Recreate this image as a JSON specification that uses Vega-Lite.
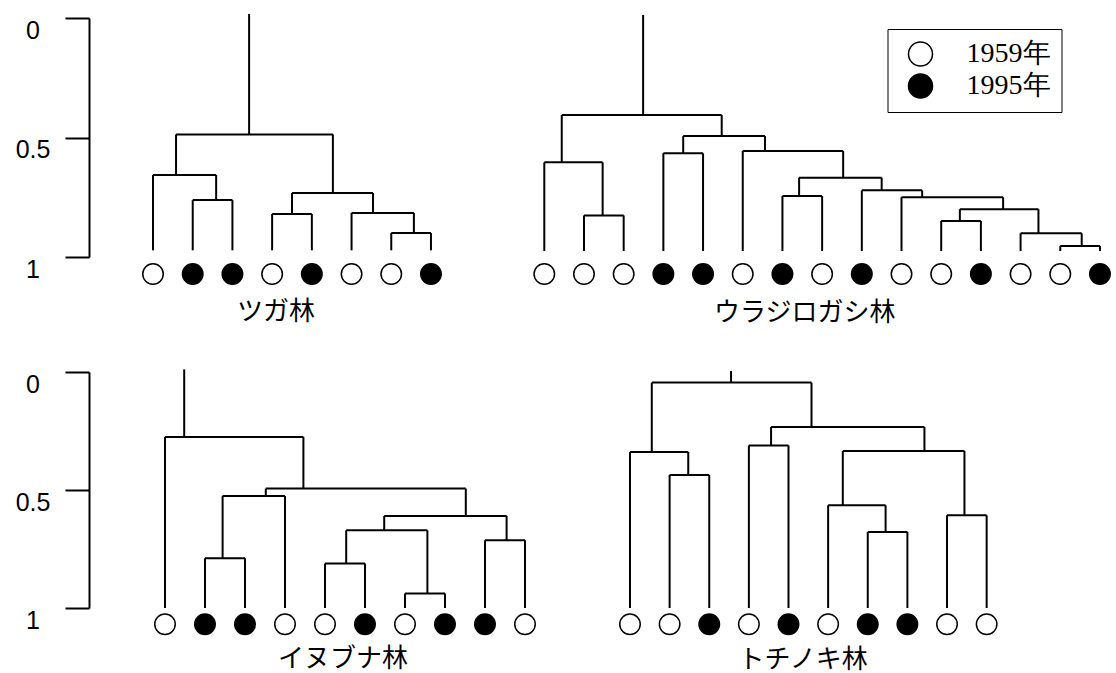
{
  "background": "white",
  "padding": {"left": 15, "top": 12, "right": 0, "bottom": 0},
  "bounds": "flush",
  "spacing": 354,
  "datasets": {
    "mA": [
      {"xl": 2, "xr": 3, "h": 0.762, "hl": 0.972, "hr": 0.972},
      {"xl": 1, "xr": 2.59, "h": 0.657, "hl": 0.972, "hr": 0.762},
      {"xl": 7, "xr": 8, "h": 0.9, "hl": 0.972, "hr": 0.972},
      {"xl": 6, "xr": 7.57, "h": 0.816, "hl": 0.972, "hr": 0.9},
      {"xl": 4, "xr": 5, "h": 0.82, "hl": 0.972, "hr": 0.972},
      {"xl": 4.5, "xr": 6.54, "h": 0.732, "hl": 0.82, "hr": 0.816},
      {"xl": 1.58, "xr": 5.53, "h": 0.487, "hl": 0.657, "hr": 0.732}
    ],
    "mB": [
      {"xl": 2, "xr": 3, "h": 0.826, "hl": 0.975, "hr": 0.975},
      {"xl": 1, "xr": 2.47, "h": 0.604, "hl": 0.975, "hr": 0.826},
      {"xl": 4, "xr": 5, "h": 0.566, "hl": 0.975, "hr": 0.975},
      {"xl": 4.5, "xr": 6.56, "h": 0.494, "hl": 0.566, "hr": 0.556},
      {"xl": 6, "xr": 8.53, "h": 0.556, "hl": 0.975, "hr": 0.668},
      {"xl": 7.42, "xr": 9.5, "h": 0.668, "hl": 0.745, "hr": 0.721},
      {"xl": 7, "xr": 8, "h": 0.745, "hl": 0.975, "hr": 0.975},
      {"xl": 9, "xr": 10.52, "h": 0.721, "hl": 0.975, "hr": 0.75},
      {"xl": 10, "xr": 12.56, "h": 0.75, "hl": 0.975, "hr": 0.8},
      {"xl": 11.47, "xr": 13.45, "h": 0.8, "hl": 0.849, "hr": 0.901},
      {"xl": 11, "xr": 12, "h": 0.849, "hl": 0.975, "hr": 0.975},
      {"xl": 13, "xr": 14.54, "h": 0.901, "hl": 0.975, "hr": 0.954},
      {"xl": 14, "xr": 15, "h": 0.954, "hl": 0.975, "hr": 0.975},
      {"xl": 1.44, "xr": 5.47, "h": 0.406, "hl": 0.604, "hr": 0.494}
    ],
    "mC": [
      {"xl": 1, "xr": 4.46, "h": 0.275, "hl": 1.0, "hr": 0.494},
      {"xl": 3.52, "xr": 8.52, "h": 0.494, "hl": 0.525, "hr": 0.61},
      {"xl": 2.44, "xr": 4, "h": 0.525, "hl": 0.789, "hr": 1.0},
      {"xl": 2, "xr": 3, "h": 0.789, "hl": 1.0, "hr": 1.0},
      {"xl": 6.48, "xr": 9.54, "h": 0.61, "hl": 0.671, "hr": 0.713},
      {"xl": 5.53, "xr": 7.56, "h": 0.671, "hl": 0.811, "hr": 0.939},
      {"xl": 5, "xr": 6, "h": 0.811, "hl": 1.0, "hr": 1.0},
      {"xl": 7, "xr": 8, "h": 0.939, "hl": 1.0, "hr": 1.0},
      {"xl": 9, "xr": 10, "h": 0.713, "hl": 1.0, "hr": 1.0}
    ],
    "mD": [
      {"xl": 1.55, "xr": 5.58, "h": 0.045, "hl": 0.339, "hr": 0.233},
      {"xl": 1, "xr": 2.47, "h": 0.339, "hl": 1.0, "hr": 0.436},
      {"xl": 2, "xr": 3, "h": 0.436, "hl": 1.0, "hr": 1.0},
      {"xl": 4.56, "xr": 8.43, "h": 0.233, "hl": 0.311, "hr": 0.335},
      {"xl": 4, "xr": 5, "h": 0.311, "hl": 1.0, "hr": 1.0},
      {"xl": 6.37, "xr": 9.44, "h": 0.335, "hl": 0.565, "hr": 0.607},
      {"xl": 6, "xr": 7.45, "h": 0.565, "hl": 1.0, "hr": 0.678},
      {"xl": 7, "xr": 8, "h": 0.678, "hl": 1.0, "hr": 1.0},
      {"xl": 9, "xr": 10, "h": 0.607, "hl": 1.0, "hr": 1.0}
    ],
    "sA": [{"x": 3.42, "top": -0.017, "h": 0.487}],
    "sB": [{"x": 3.49, "top": -0.013, "h": 0.406}],
    "sC": [{"x": 1.48, "top": -0.011, "h": 0.275}],
    "sD": [{"x": 3.55, "top": -0.004, "h": 0.045}],
    "lA": [
      {"i": 1, "year": "1959年"}, {"i": 2, "year": "1995年"}, {"i": 3, "year": "1995年"}, {"i": 4, "year": "1959年"},
      {"i": 5, "year": "1995年"}, {"i": 6, "year": "1959年"}, {"i": 7, "year": "1959年"}, {"i": 8, "year": "1995年"}
    ],
    "lB": [
      {"i": 1, "year": "1959年"}, {"i": 2, "year": "1959年"}, {"i": 3, "year": "1959年"}, {"i": 4, "year": "1995年"},
      {"i": 5, "year": "1995年"}, {"i": 6, "year": "1959年"}, {"i": 7, "year": "1995年"}, {"i": 8, "year": "1959年"},
      {"i": 9, "year": "1995年"}, {"i": 10, "year": "1959年"}, {"i": 11, "year": "1959年"}, {"i": 12, "year": "1995年"},
      {"i": 13, "year": "1959年"}, {"i": 14, "year": "1959年"}, {"i": 15, "year": "1995年"}
    ],
    "lC": [
      {"i": 1, "year": "1959年"}, {"i": 2, "year": "1995年"}, {"i": 3, "year": "1995年"}, {"i": 4, "year": "1959年"},
      {"i": 5, "year": "1959年"}, {"i": 6, "year": "1995年"}, {"i": 7, "year": "1959年"}, {"i": 8, "year": "1995年"},
      {"i": 9, "year": "1995年"}, {"i": 10, "year": "1959年"}
    ],
    "lD": [
      {"i": 1, "year": "1959年"}, {"i": 2, "year": "1959年"}, {"i": 3, "year": "1995年"}, {"i": 4, "year": "1959年"},
      {"i": 5, "year": "1995年"}, {"i": 6, "year": "1959年"}, {"i": 7, "year": "1995年"}, {"i": 8, "year": "1995年"},
      {"i": 9, "year": "1959年"}, {"i": 10, "year": "1959年"}
    ]
  },
  "vconcat": [
    {
      "bounds": "flush",
      "spacing": 0,
      "hconcat": [
        {
          "width": 446, "height": 239,
          "layer": [
            {"data": {"name": "mA"}, "mark": {"type": "rule", "color": "black", "strokeWidth": 2},
             "encoding": {
               "x": {"field": "xl", "type": "quantitative", "scale": {"domain": [-0.612, 10.62], "nice": false, "zero": false}, "axis": null},
               "x2": {"field": "xr"},
               "y": {"field": "h", "type": "quantitative", "title": null, "scale": {"domain": [0, 1], "reverse": true, "nice": false, "zero": false},
                     "axis": {"values": [0, 0.5, 1], "format": "~g", "title": null, "grid": false, "domainColor": "black", "domainWidth": 2, "tickColor": "black", "tickWidth": 2, "tickSize": 24, "labelFont": "Liberation Sans", "labelFontSize": 25, "labelColor": "black", "labelAlign": "center", "labelBaseline": "top", "labelPadding": 32.5, "labelFlush": false, "labelOverlap": false}}
             }},
            {"data": {"name": "mA"}, "mark": {"type": "rule", "color": "black", "strokeWidth": 2},
             "encoding": {
               "x": {"field": "xl", "type": "quantitative", "axis": null},
               "y": {"field": "h", "type": "quantitative", "title": null,
                     "axis": {"values": [0, 0.5, 1], "format": "~g", "title": null, "grid": false, "domainColor": "black", "domainWidth": 2, "tickColor": "black", "tickWidth": 2, "tickSize": 24, "labelFont": "Liberation Sans", "labelFontSize": 25, "labelColor": "black", "labelAlign": "center", "labelBaseline": "top", "labelPadding": 32.5, "labelFlush": false, "labelOverlap": false}},
               "y2": {"field": "hl"}
             }},
            {"data": {"name": "mA"}, "mark": {"type": "rule", "color": "black", "strokeWidth": 2},
             "encoding": {
               "x": {"field": "xr", "type": "quantitative", "axis": null},
               "y": {"field": "h", "type": "quantitative", "title": null,
                     "axis": {"values": [0, 0.5, 1], "format": "~g", "title": null, "grid": false, "domainColor": "black", "domainWidth": 2, "tickColor": "black", "tickWidth": 2, "tickSize": 24, "labelFont": "Liberation Sans", "labelFontSize": 25, "labelColor": "black", "labelAlign": "center", "labelBaseline": "top", "labelPadding": 32.5, "labelFlush": false, "labelOverlap": false}},
               "y2": {"field": "hr"}
             }},
            {"data": {"name": "sA"}, "mark": {"type": "rule", "color": "black", "strokeWidth": 2},
             "encoding": {
               "x": {"field": "x", "type": "quantitative", "axis": null},
               "y": {"field": "top", "type": "quantitative", "title": null,
                     "axis": {"values": [0, 0.5, 1], "format": "~g", "title": null, "grid": false, "domainColor": "black", "domainWidth": 2, "tickColor": "black", "tickWidth": 2, "tickSize": 24, "labelFont": "Liberation Sans", "labelFontSize": 25, "labelColor": "black", "labelAlign": "center", "labelBaseline": "top", "labelPadding": 32.5, "labelFlush": false, "labelOverlap": false}},
               "y2": {"field": "h"}
             }},
            {"data": {"name": "lA"},
             "mark": {"type": "point", "shape": "circle", "filled": true, "size": 420, "stroke": "black", "strokeWidth": 1.5, "opacity": 1},
             "encoding": {
               "x": {"field": "i", "type": "quantitative", "axis": null},
               "y": {"datum": 1.071, "type": "quantitative"},
               "fill": {"field": "year", "type": "nominal", "scale": {"domain": ["1959年", "1995年"], "range": ["white", "black"]}, "legend": {"orient": "none", "legendX": 798.5, "legendY": 11, "title": null}}
             }},
            {"data": {"values": [{"label": "ツガ林"}]},
             "mark": {"type": "text", "font": "Noto Sans CJK JP", "fontSize": 26, "color": "black", "align": "center", "baseline": "middle"},
             "encoding": {
               "x": {"datum": 4.1, "type": "quantitative"},
               "y": {"datum": 1.23, "type": "quantitative"},
               "text": {"field": "label", "type": "nominal"}
             }}
          ]
        },
        {
          "width": 581, "height": 239,
          "layer": [
            {"data": {"name": "mB"}, "mark": {"type": "rule", "color": "black", "strokeWidth": 2},
             "encoding": {
               "x": {"field": "xl", "type": "quantitative", "scale": {"domain": [0.766, 15.404], "nice": false, "zero": false}, "axis": null},
               "x2": {"field": "xr"},
               "y": {"field": "h", "type": "quantitative", "scale": {"domain": [0, 1], "reverse": true, "nice": false, "zero": false}, "axis": null}
             }},
            {"data": {"name": "mB"}, "mark": {"type": "rule", "color": "black", "strokeWidth": 2},
             "encoding": {
               "x": {"field": "xl", "type": "quantitative", "axis": null},
               "y": {"field": "h", "type": "quantitative", "axis": null},
               "y2": {"field": "hl"}
             }},
            {"data": {"name": "mB"}, "mark": {"type": "rule", "color": "black", "strokeWidth": 2},
             "encoding": {
               "x": {"field": "xr", "type": "quantitative", "axis": null},
               "y": {"field": "h", "type": "quantitative", "axis": null},
               "y2": {"field": "hr"}
             }},
            {"data": {"name": "sB"}, "mark": {"type": "rule", "color": "black", "strokeWidth": 2},
             "encoding": {
               "x": {"field": "x", "type": "quantitative", "axis": null},
               "y": {"field": "top", "type": "quantitative", "axis": null},
               "y2": {"field": "h"}
             }},
            {"data": {"name": "lB"},
             "mark": {"type": "point", "shape": "circle", "filled": true, "size": 420, "stroke": "black", "strokeWidth": 1.5, "opacity": 1},
             "encoding": {
               "x": {"field": "i", "type": "quantitative", "axis": null},
               "y": {"datum": 1.071, "type": "quantitative", "axis": null},
               "fill": {"field": "year", "type": "nominal", "scale": {"domain": ["1959年", "1995年"], "range": ["white", "black"]}, "legend": {"orient": "none", "legendX": 798.5, "legendY": 11, "title": null}}
             }},
            {"data": {"values": [{"label": "ウラジロガシ林"}]},
             "mark": {"type": "text", "font": "Noto Sans CJK JP", "fontSize": 26, "color": "black", "align": "center", "baseline": "middle"},
             "encoding": {
               "x": {"datum": 7.56, "type": "quantitative", "axis": null},
               "y": {"datum": 1.233, "type": "quantitative", "axis": null},
               "text": {"field": "label", "type": "nominal"}
             }}
          ]
        }
      ]
    },
    {
      "bounds": "flush",
      "spacing": 0,
      "hconcat": [
        {
          "width": 446, "height": 236,
          "layer": [
            {"data": {"name": "mC"}, "mark": {"type": "rule", "color": "black", "strokeWidth": 2},
             "encoding": {
               "x": {"field": "xl", "type": "quantitative", "scale": {"domain": [-0.9, 10.25], "nice": false, "zero": false}, "axis": null},
               "x2": {"field": "xr"},
               "y": {"field": "h", "type": "quantitative", "title": null, "scale": {"domain": [0, 1], "reverse": true, "nice": false, "zero": false},
                     "axis": {"values": [0, 0.5, 1], "format": "~g", "title": null, "grid": false, "domainColor": "black", "domainWidth": 2, "tickColor": "black", "tickWidth": 2, "tickSize": 24, "labelFont": "Liberation Sans", "labelFontSize": 25, "labelColor": "black", "labelAlign": "center", "labelBaseline": "top", "labelPadding": 32.5, "labelFlush": false, "labelOverlap": false}}
             }},
            {"data": {"name": "mC"}, "mark": {"type": "rule", "color": "black", "strokeWidth": 2},
             "encoding": {
               "x": {"field": "xl", "type": "quantitative", "axis": null},
               "y": {"field": "h", "type": "quantitative", "title": null,
                     "axis": {"values": [0, 0.5, 1], "format": "~g", "title": null, "grid": false, "domainColor": "black", "domainWidth": 2, "tickColor": "black", "tickWidth": 2, "tickSize": 24, "labelFont": "Liberation Sans", "labelFontSize": 25, "labelColor": "black", "labelAlign": "center", "labelBaseline": "top", "labelPadding": 32.5, "labelFlush": false, "labelOverlap": false}},
               "y2": {"field": "hl"}
             }},
            {"data": {"name": "mC"}, "mark": {"type": "rule", "color": "black", "strokeWidth": 2},
             "encoding": {
               "x": {"field": "xr", "type": "quantitative", "axis": null},
               "y": {"field": "h", "type": "quantitative", "title": null,
                     "axis": {"values": [0, 0.5, 1], "format": "~g", "title": null, "grid": false, "domainColor": "black", "domainWidth": 2, "tickColor": "black", "tickWidth": 2, "tickSize": 24, "labelFont": "Liberation Sans", "labelFontSize": 25, "labelColor": "black", "labelAlign": "center", "labelBaseline": "top", "labelPadding": 32.5, "labelFlush": false, "labelOverlap": false}},
               "y2": {"field": "hr"}
             }},
            {"data": {"name": "sC"}, "mark": {"type": "rule", "color": "black", "strokeWidth": 2},
             "encoding": {
               "x": {"field": "x", "type": "quantitative", "axis": null},
               "y": {"field": "top", "type": "quantitative", "title": null,
                     "axis": {"values": [0, 0.5, 1], "format": "~g", "title": null, "grid": false, "domainColor": "black", "domainWidth": 2, "tickColor": "black", "tickWidth": 2, "tickSize": 24, "labelFont": "Liberation Sans", "labelFontSize": 25, "labelColor": "black", "labelAlign": "center", "labelBaseline": "top", "labelPadding": 32.5, "labelFlush": false, "labelOverlap": false}},
               "y2": {"field": "h"}
             }},
            {"data": {"name": "lC"},
             "mark": {"type": "point", "shape": "circle", "filled": true, "size": 420, "stroke": "black", "strokeWidth": 1.5, "opacity": 1},
             "encoding": {
               "x": {"field": "i", "type": "quantitative", "axis": null},
               "y": {"datum": 1.069, "type": "quantitative"},
               "fill": {"field": "year", "type": "nominal", "scale": {"domain": ["1959年", "1995年"], "range": ["white", "black"]}, "legend": {"orient": "none", "legendX": 798.5, "legendY": 11, "title": null}}
             }},
            {"data": {"values": [{"label": "イヌブナ林"}]},
             "mark": {"type": "text", "font": "Noto Sans CJK JP", "fontSize": 26, "color": "black", "align": "center", "baseline": "middle"},
             "encoding": {
               "x": {"datum": 5.45, "type": "quantitative"},
               "y": {"datum": 1.216, "type": "quantitative"},
               "text": {"field": "label", "type": "nominal"}
             }}
          ]
        },
        {
          "width": 581, "height": 236,
          "layer": [
            {"data": {"name": "mD"}, "mark": {"type": "rule", "color": "black", "strokeWidth": 2},
             "encoding": {
               "x": {"field": "xl", "type": "quantitative", "scale": {"domain": [-1.397, 13.264], "nice": false, "zero": false}, "axis": null},
               "x2": {"field": "xr"},
               "y": {"field": "h", "type": "quantitative", "scale": {"domain": [0, 1], "reverse": true, "nice": false, "zero": false}, "axis": null}
             }},
            {"data": {"name": "mD"}, "mark": {"type": "rule", "color": "black", "strokeWidth": 2},
             "encoding": {
               "x": {"field": "xl", "type": "quantitative", "axis": null},
               "y": {"field": "h", "type": "quantitative", "axis": null},
               "y2": {"field": "hl"}
             }},
            {"data": {"name": "mD"}, "mark": {"type": "rule", "color": "black", "strokeWidth": 2},
             "encoding": {
               "x": {"field": "xr", "type": "quantitative", "axis": null},
               "y": {"field": "h", "type": "quantitative", "axis": null},
               "y2": {"field": "hr"}
             }},
            {"data": {"name": "sD"}, "mark": {"type": "rule", "color": "black", "strokeWidth": 2},
             "encoding": {
               "x": {"field": "x", "type": "quantitative", "axis": null},
               "y": {"field": "top", "type": "quantitative", "axis": null},
               "y2": {"field": "h"}
             }},
            {"data": {"name": "lD"},
             "mark": {"type": "point", "shape": "circle", "filled": true, "size": 420, "stroke": "black", "strokeWidth": 1.5, "opacity": 1},
             "encoding": {
               "x": {"field": "i", "type": "quantitative", "axis": null},
               "y": {"datum": 1.069, "type": "quantitative", "axis": null},
               "fill": {"field": "year", "type": "nominal", "scale": {"domain": ["1959年", "1995年"], "range": ["white", "black"]}, "legend": {"orient": "none", "legendX": 798.5, "legendY": 11, "title": null}}
             }},
            {"data": {"values": [{"label": "トチノキ林"}]},
             "mark": {"type": "text", "font": "Noto Sans CJK JP", "fontSize": 26, "color": "black", "align": "center", "baseline": "middle"},
             "encoding": {
               "x": {"datum": 5.37, "type": "quantitative", "axis": null},
               "y": {"datum": 1.22, "type": "quantitative", "axis": null},
               "text": {"field": "label", "type": "nominal"}
             }}
          ]
        }
      ]
    }
  ],
  "config": {
    "view": {"stroke": null},
    "legend": {
      "padding": 11, "symbolOffset": 8, "labelOffset": 32, "rowPadding": 2,
      "symbolSize": 576, "symbolType": "circle", "symbolStrokeColor": "black", "symbolStrokeWidth": 1.5, "symbolOpacity": 1,
      "labelFont": "Liberation Serif", "labelFontSize": 28, "labelColor": "black", "labelLimit": 0,
      "strokeColor": "black", "fillColor": "white"
    }
  }
}
